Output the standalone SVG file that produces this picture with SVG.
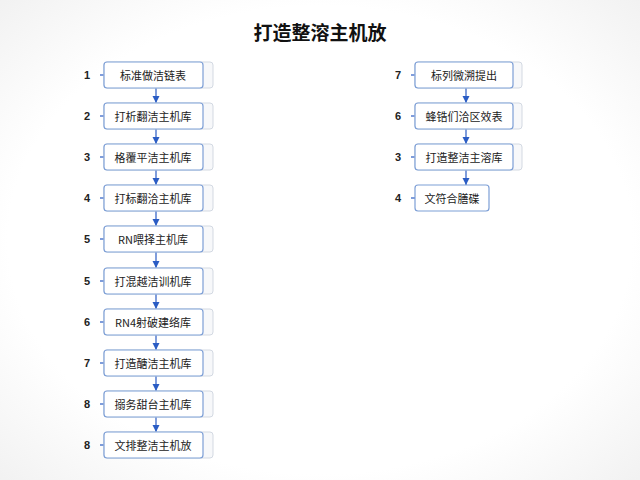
<svg xmlns="http://www.w3.org/2000/svg" width="640" height="480" viewBox="0 0 640 480">
<defs>
<radialGradient id="bg" cx="50%" cy="50%" r="75%">
<stop offset="0.65" stop-color="#ffffff"/>
<stop offset="1" stop-color="#efefef"/>
</radialGradient>
<marker id="ah" markerWidth="8" markerHeight="8" refX="7" refY="4" orient="auto" markerUnits="userSpaceOnUse">
<path d="M0,0.5 L7,4 L0,7.5 Z" fill="#2a5cc4"/>
</marker>
<style>
.back{fill:#f7f8fa;stroke:#d3d9e2;stroke-width:1}
.box{fill:#ffffff;stroke:#7d9fd6;stroke-width:1.2}
.lbl{font-family:"Noto Sans CJK SC","Liberation Sans",sans-serif;font-size:11px;fill:#222;text-anchor:middle;dominant-baseline:central}
.num{font-family:"Liberation Sans","Noto Sans",sans-serif;font-size:11px;font-weight:bold;fill:#222;text-anchor:middle;dominant-baseline:central}
.tick{stroke:#2a5cc4;stroke-width:1.2}
.conn{stroke:#2a5cc4;stroke-width:1.2;fill:none}
.title{font-family:"Noto Sans CJK SC","Liberation Sans",sans-serif;font-size:19px;font-weight:bold;fill:#111;text-anchor:middle}
</style>
</defs>
<rect x="0" y="0" width="640" height="480" fill="url(#bg)"/>
<text class="title" x="320" y="40">打造整溶主机放</text>

<g id="connectors">
<line class="conn" x1="156" y1="88" x2="156" y2="103" marker-end="url(#ah)"/>
<line class="conn" x1="156" y1="129" x2="156" y2="144" marker-end="url(#ah)"/>
<line class="conn" x1="156" y1="170" x2="156" y2="185" marker-end="url(#ah)"/>
<line class="conn" x1="156" y1="211" x2="156" y2="226" marker-end="url(#ah)"/>
<line class="conn" x1="156" y1="252" x2="156" y2="268" marker-end="url(#ah)"/>
<line class="conn" x1="156" y1="294" x2="156" y2="309" marker-end="url(#ah)"/>
<line class="conn" x1="156" y1="335" x2="156" y2="350" marker-end="url(#ah)"/>
<line class="conn" x1="156" y1="376" x2="156" y2="391" marker-end="url(#ah)"/>
<line class="conn" x1="156" y1="417" x2="156" y2="432" marker-end="url(#ah)"/>
<line class="conn" x1="466" y1="88" x2="466" y2="103" marker-end="url(#ah)"/>
<line class="conn" x1="466" y1="129" x2="466" y2="144" marker-end="url(#ah)"/>
<line class="conn" x1="466" y1="170" x2="466" y2="185" marker-end="url(#ah)"/>
</g>

<g id="n1"><text class="num" x="87" y="75">1</text><line class="tick" x1="100" y1="75" x2="104" y2="75"/><rect class="back" x="104" y="62" width="109" height="26" rx="3"/><rect class="box" x="104" y="62" width="99" height="26" rx="3"/><text class="lbl" x="153" y="75">标准做洁链表</text></g>
<g id="n2"><text class="num" x="87" y="116">2</text><line class="tick" x1="100" y1="116" x2="104" y2="116"/><rect class="back" x="104" y="103" width="109" height="26" rx="3"/><rect class="box" x="104" y="103" width="99" height="26" rx="3"/><text class="lbl" x="153" y="116">打析翻洁主机库</text></g>
<g id="n3"><text class="num" x="87" y="157">3</text><line class="tick" x1="100" y1="157" x2="104" y2="157"/><rect class="back" x="104" y="144" width="109" height="26" rx="3"/><rect class="box" x="104" y="144" width="99" height="26" rx="3"/><text class="lbl" x="153" y="157">格覆平洁主机库</text></g>
<g id="n4"><text class="num" x="87" y="198">4</text><line class="tick" x1="100" y1="198" x2="104" y2="198"/><rect class="back" x="104" y="185" width="109" height="26" rx="3"/><rect class="box" x="104" y="185" width="99" height="26" rx="3"/><text class="lbl" x="153" y="198">打标翻洽主机库</text></g>
<g id="n5"><text class="num" x="87" y="239">5</text><line class="tick" x1="100" y1="239" x2="104" y2="239"/><rect class="back" x="104" y="226" width="109" height="26" rx="3"/><rect class="box" x="104" y="226" width="99" height="26" rx="3"/><text class="lbl" x="153" y="239">RN喂择主机库</text></g>
<g id="n6"><text class="num" x="87" y="281">5</text><line class="tick" x1="100" y1="281" x2="104" y2="281"/><rect class="back" x="104" y="268" width="109" height="26" rx="3"/><rect class="box" x="104" y="268" width="99" height="26" rx="3"/><text class="lbl" x="153" y="281">打混越洁训机库</text></g>
<g id="n7"><text class="num" x="87" y="322">6</text><line class="tick" x1="100" y1="322" x2="104" y2="322"/><rect class="back" x="104" y="309" width="109" height="26" rx="3"/><rect class="box" x="104" y="309" width="99" height="26" rx="3"/><text class="lbl" x="153" y="322">RN4射破建络库</text></g>
<g id="n8"><text class="num" x="87" y="363">7</text><line class="tick" x1="100" y1="363" x2="104" y2="363"/><rect class="back" x="104" y="350" width="109" height="26" rx="3"/><rect class="box" x="104" y="350" width="99" height="26" rx="3"/><text class="lbl" x="153" y="363">打造醣洁主机库</text></g>
<g id="n9"><text class="num" x="87" y="404">8</text><line class="tick" x1="100" y1="404" x2="104" y2="404"/><rect class="back" x="104" y="391" width="109" height="26" rx="3"/><rect class="box" x="104" y="391" width="99" height="26" rx="3"/><text class="lbl" x="153" y="404">搦务甜台主机库</text></g>
<g id="n10"><text class="num" x="87" y="445">8</text><line class="tick" x1="100" y1="445" x2="104" y2="445"/><rect class="back" x="104" y="432" width="109" height="26" rx="3"/><rect class="box" x="104" y="432" width="99" height="26" rx="3"/><text class="lbl" x="153" y="445">文排整洁主机放</text></g>

<g id="r1"><text class="num" x="398" y="75">7</text><line class="tick" x1="411" y1="75" x2="415" y2="75"/><rect class="back" x="415" y="62" width="107" height="26" rx="3"/><rect class="box" x="415" y="62" width="98" height="26" rx="3"/><text class="lbl" x="464" y="75">标列微溯提出</text></g>
<g id="r2"><text class="num" x="398" y="116">6</text><line class="tick" x1="411" y1="116" x2="415" y2="116"/><rect class="back" x="415" y="103" width="107" height="26" rx="3"/><rect class="box" x="415" y="103" width="98" height="26" rx="3"/><text class="lbl" x="464" y="116">蜂锆们洽区效表</text></g>
<g id="r3"><text class="num" x="398" y="157">3</text><line class="tick" x1="411" y1="157" x2="415" y2="157"/><rect class="back" x="415" y="144" width="107" height="26" rx="3"/><rect class="box" x="415" y="144" width="98" height="26" rx="3"/><text class="lbl" x="464" y="157">打造整洁主溶库</text></g>
<g id="r4"><text class="num" x="398" y="198">4</text><line class="tick" x1="411" y1="198" x2="415" y2="198"/><rect class="box" x="415" y="185" width="74" height="26" rx="3"/><text class="lbl" x="452" y="198">文符合膳碟</text></g>
</svg>
